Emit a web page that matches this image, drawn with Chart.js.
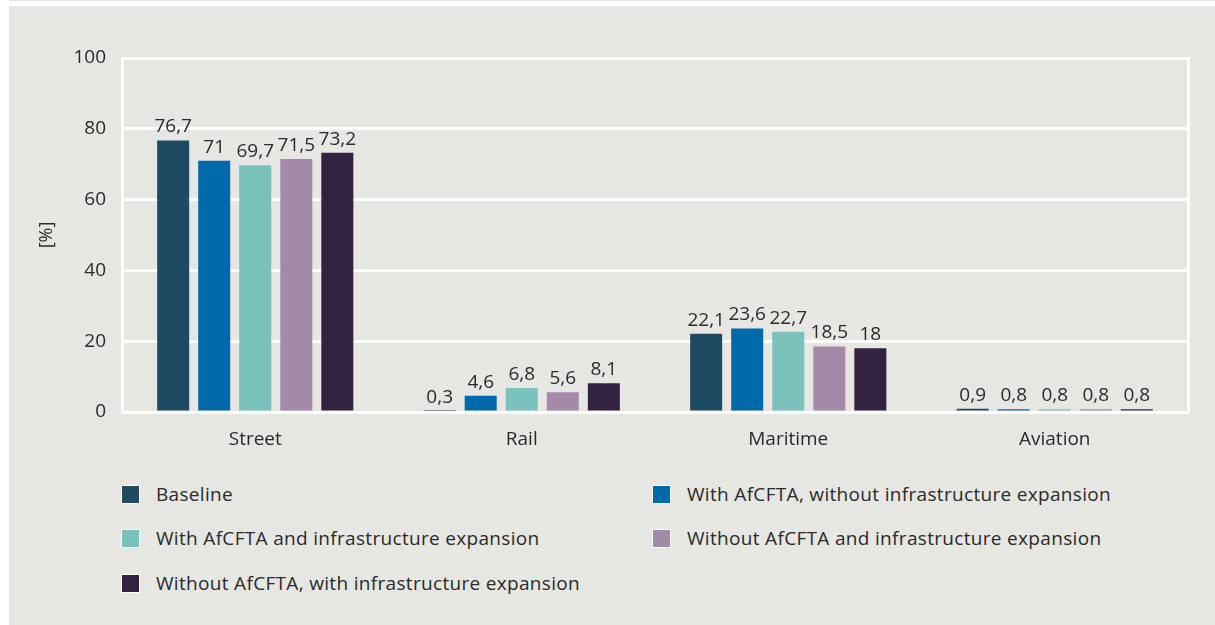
<!DOCTYPE html>
<html>
<head>
<meta charset="utf-8">
<script src="https://cdn.jsdelivr.net/npm/chart.js@4"></script>
<style>
    body { margin: 0; background: #ffffff; font-family: 'Open Sans', sans-serif; }
    #topline { position: absolute; left: 9px; top: 0; width: 1206px; height: 1px; background: #e4e4e0; }
    #panel { position: absolute; left: 9px; top: 6px; width: 1206px; height: 619px; background: #e6e6e2; }
    #chart { position: absolute; left: 0; top: 0; }
    #legend { position: absolute; left: 0; top: 0; }
    .item { position: absolute; height: 20px; font-size: 19px; letter-spacing: 0.32px; color: #2a2a2a; white-space: nowrap; }
    .box { position: absolute; left: 0; top: 0; width: 17px; height: 17px; border: 1px solid #ffffff; }
    .txt { position: absolute; left: 35px; top: -4px; line-height: 26px; }
</style>
</head>
<body>
<div id="topline"></div>
<div id="panel"></div>
<canvas id="chart" width="1215" height="470"></canvas>
<div id="legend"></div>
<script>
const categories = ['Street', 'Rail', 'Maritime', 'Aviation'];
const seriesNames = [
    'Baseline',
    'With AfCFTA, without infrastructure expansion',
    'With AfCFTA and infrastructure expansion',
    'Without AfCFTA and infrastructure expansion',
    'Without AfCFTA, with infrastructure expansion',
];
const baseline = [76.7, 0.3, 22.1, 0.9];
const withoutInfra = [71, 4.6, 23.6, 0.8];
const withInfra = [69.7, 6.8, 22.7, 0.8];
const withoutBoth = [71.5, 5.6, 18.5, 0.8];
const withoutAfcfta = [73.2, 8.1, 18, 0.8];
const seriesColors = ['#1e4a62', '#0069aa', '#7ac1bc', '#a38aa8', '#322240'];
const yTicks = [0, 20, 40, 60, 80, 100];

const textColor = '#2a2a2a';
const fontFamily = "'Open Sans', sans-serif";

let seriesValues = [baseline, withoutInfra, withInfra, withoutBoth, withoutAfcfta];
let datasets = seriesNames.map((name, i) => ({
    label: name,
    data: seriesValues[i],
    backgroundColor: seriesColors[i],
    borderWidth: 0,
    categoryPercentage: 0.77,
    barPercentage: 0.78,
}));

// value labels above each bar, decimal comma
const valueLabels = {
    id: 'valueLabels',
    afterDatasetsDraw(chart) {
        const ctx = chart.ctx;
        ctx.save();
        ctx.font = '19px ' + fontFamily;
        ctx.fillStyle = textColor;
        ctx.textAlign = 'center';
        ctx.textBaseline = 'bottom';
        chart.data.datasets.forEach((ds, i) => {
            chart.getDatasetMeta(i).data.forEach((bar, j) => {
                const text = String(ds.data[j]).replace('.', ',');
                ctx.fillText(text, bar.x, bar.y - 4);
            });
        });
        ctx.restore();
    }
};

new Chart(document.getElementById('chart'), {
    type: 'bar',
    data: { labels: categories, datasets: datasets },
    plugins: [valueLabels],
    options: {
        responsive: false,
        animation: false,
        layout: { padding: { top: 58, left: 0, right: 0, bottom: 0 } },
        plugins: {
            legend: { display: false },
            tooltip: { enabled: false },
        },
        scales: {
            x: {
                grid: { display: false },
                border: { color: '#ffffff', width: 3 },
                ticks: { color: textColor, font: { size: 19, family: fontFamily }, padding: 8 },
                afterFit: (scale) => { scale.height = 58; },
            },
            y: {
                min: 0,
                max: 100,
                afterBuildTicks: (scale) => { scale.ticks = yTicks.map(v => ({ value: v })); },
                grid: { color: '#ffffff', lineWidth: 3, drawTicks: false },
                border: { color: '#ffffff', width: 3 },
                ticks: { color: textColor, font: { size: 19, family: fontFamily }, padding: 16 },
                title: {
                    display: true,
                    text: '[%]',
                    color: textColor,
                    font: { size: 18, family: fontFamily },
                    padding: { top: 36, bottom: 0 },
                },
                afterFit: (scale) => { scale.width = 122; },
            },
            y2: {
                position: 'right',
                min: 0,
                max: 100,
                grid: { display: false, drawTicks: false },
                border: { color: '#ffffff', width: 3 },
                ticks: { display: false },
                afterFit: (scale) => { scale.width = 27; },
            },
        }
    }
});

// two-column legend
const legend = document.getElementById('legend');
const colX = [121, 652];
const rowY = [485, 529, 574];
seriesNames.forEach((name, i) => {
    const item = document.createElement('div');
    item.className = 'item';
    item.style.left = colX[i % 2] + 'px';
    item.style.top = rowY[Math.floor(i / 2)] + 'px';
    item.innerHTML = '<div class="box" style="background:' + seriesColors[i] + '"></div><span class="txt">' + name + '</span>';
    legend.appendChild(item);
});
</script>
</body>
</html>
